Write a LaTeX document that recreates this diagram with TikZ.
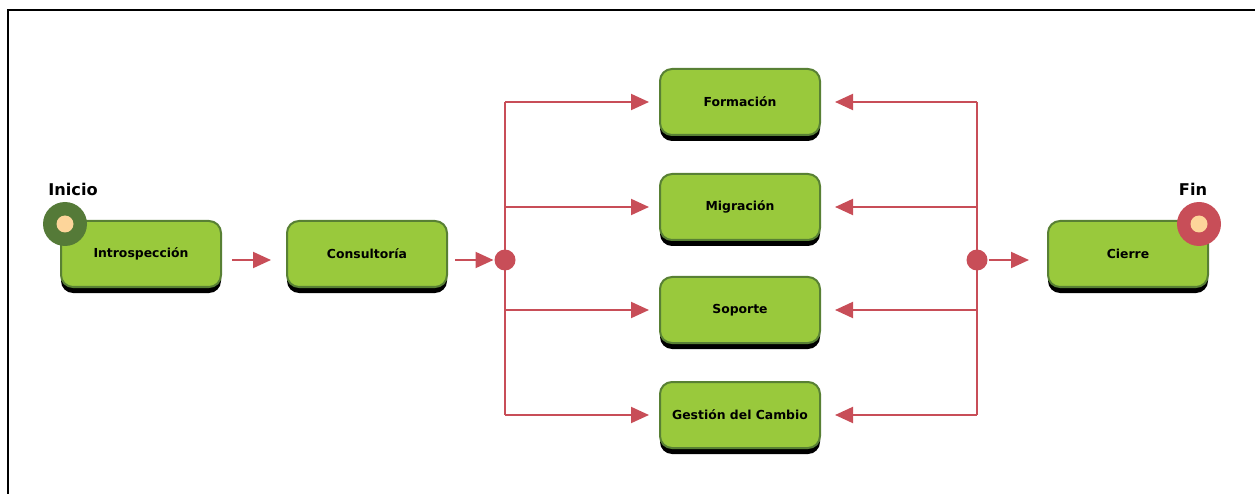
\documentclass[tikz,border=0pt]{standalone}
\usepackage{fontspec}
\setmainfont{DejaVu Sans}
\usetikzlibrary{arrows.meta,shadows}

\definecolor{boxfill}{RGB}{153,201,60}
\definecolor{boxline}{RGB}{88,128,52}
\definecolor{flowred}{RGB}{200,78,88}
\definecolor{startgreen}{RGB}{85,122,56}
\definecolor{peach}{RGB}{253,213,154}

\tikzset{every picture/.style={line width=2pt}}
\tikzset{
  task/.style={draw=boxline, fill=boxfill, rounded corners=12pt,
    minimum width=160pt, minimum height=66pt, inner sep=0pt,
    font=\fontsize{12.4}{14}\selectfont\bfseries,
    drop shadow={shadow xshift=0pt, shadow yshift=-6pt, opacity=1, fill=black, shadow scale=1}},
  flow/.style={draw=flowred, -{Triangle[length=18pt,width=16pt]}},
  bar/.style={draw=flowred},
  dot/.style={circle, fill=flowred, minimum size=21pt, inner sep=0pt},
  ring/.style={circle, minimum size=44pt, inner sep=0pt},
  eye/.style={circle, fill=peach, minimum size=17pt, inner sep=0pt},
  caption/.style={font=\fontsize{16.2}{19}\selectfont\bfseries}
}

\begin{document}
\begin{tikzpicture}[x=1pt,y=1pt,yscale=-1,xscale=1]
\useasboundingbox (0,0) rectangle (1255,494);

% frame
\draw [line width=1.2pt] (8,494) -- (8,10) -- (1255,10);

% Text Node
\node (intro) [task] at (141,254) {Introspección};
\node (consul) [task] at (367,254) {Consultoría};
\node (form) [task] at (740,102) {Formación};
\node (migr) [task] at (740,207) {Migración};
\node (sop) [task] at (740,310) {Soporte};
\node (gest) [task] at (740,415) {Gestión del Cambio};
\node (cierre) [task] at (1128,254) {Cierre};

% start and end marks
\node (ini) [ring, fill=startgreen] at ([shift={(5,4)}]intro.north west) {};
\node (inieye) [eye] at (ini) {};
\node (fin) [ring, fill=flowred] at ([shift={(-10,4)}]cierre.north east) {};
\node (fineye) [eye] at (fin) {};
\node (inilab) [caption] at (73,189) {Inicio};
\node (finlab) [caption] at (1193,189) {Fin};

% junctions
\node (jl) [dot] at (505,260) {};
\node (jr) [dot] at (977,260) {};

\draw [flow] ([shift={(10,6)}]intro.east) -- ([shift={(-15,6)}]consul.west);
\draw [flow] ([shift={(7,6)}]consul.east) -- (jl.west);

\draw [bar] (jl |- form.center) -- (jl |- gest.center);
\draw [bar] (jr |- form.center) -- (jr |- gest.center);

\foreach \t in {form,migr,sop,gest}{
  \draw [flow] (jl |- \t.center) -- ([xshift=-10]\t.west);
  \draw [flow] (jr |- \t.center) -- ([xshift=14]\t.east);
}

\draw [flow] (jr.east) -- ([shift={(-18,6)}]cierre.west);

\end{tikzpicture}
\end{document}
